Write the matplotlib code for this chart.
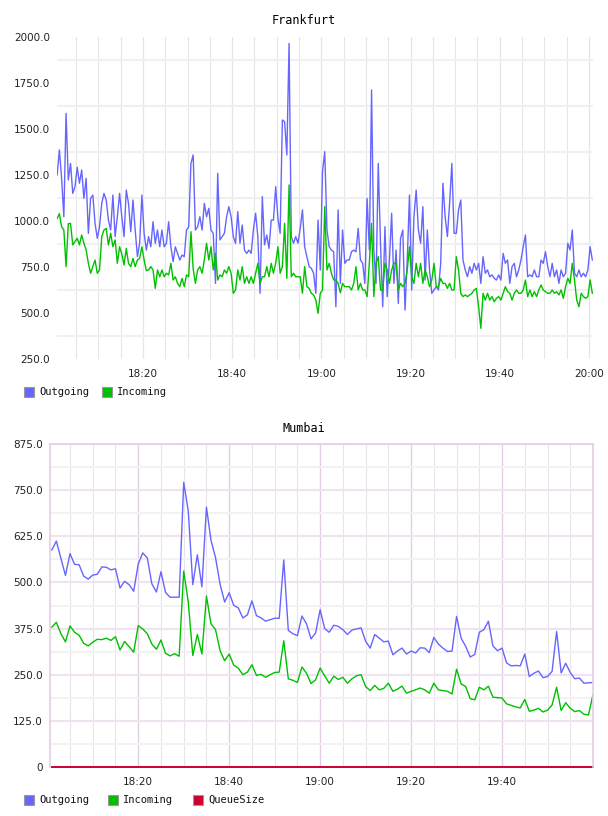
import numpy as np
import pandas as pd
import matplotlib
matplotlib.use("Agg")
import matplotlib.pyplot as plt
import matplotlib.dates as mdates
from matplotlib.patches import Rectangle
from matplotlib.ticker import FixedLocator, FuncFormatter

# Frankfurt samples (every 30 s)
frankfurt_out = [
    1250, 1386, 1232, 1023, 1585, 1223, 1313, 1150, 1187, 1292,
    1205, 1277, 1123, 1232, 933, 1123, 1141, 987, 906, 969,
    1096, 1150, 1114, 1005, 951, 1141, 915, 1023, 1150, 1023,
    915, 1168, 1096, 942, 1114, 951, 806, 879, 1141, 933,
    842, 915, 860, 996, 879, 951, 860, 951, 860, 879,
    996, 860, 779, 860, 824, 788, 815, 806, 951, 969,
    1313, 1359, 951, 969, 1023, 951, 1096, 1023, 1069, 951,
    933, 661, 1259, 897, 915, 933, 1023, 1078, 1023, 915,
    879, 1051, 879, 978, 842, 824, 842, 824, 951, 1042,
    915, 607, 1132, 870, 924, 851, 1005, 1005, 1187, 1014,
    933, 1549, 1540, 1359, 1965, 915, 879, 915, 879, 960,
    1060, 860, 806, 752, 743, 716, 607, 1005, 734, 1268,
    1377, 951, 860, 842, 833, 534, 1060, 661, 951, 770,
    788, 788, 833, 842, 833, 960, 788, 770, 661, 1123,
    842, 1712, 842, 661, 1313, 879, 534, 969, 589, 788,
    1042, 661, 842, 552, 906, 951, 516, 788, 1141, 625,
    1023, 1168, 951, 879, 1078, 679, 951, 734, 607, 625,
    643, 625, 770, 1205, 1023, 915, 1096, 1313, 933, 933,
    1060, 1114, 788, 734, 697, 752, 716, 770, 734, 770,
    661, 806, 716, 734, 697, 707, 689, 679, 707, 679,
    824, 770, 788, 661, 752, 770, 697, 734, 788, 860,
    924, 697, 707, 697, 734, 697, 697, 788, 770, 833,
    752, 697, 770, 697, 734, 661, 734, 697, 716, 879,
    842, 951, 716, 697, 734, 697, 716, 697, 734, 860,
    788]
frankfurt_in = [
    1014, 1040, 969, 951, 752, 985, 987, 870, 888, 906,
    870, 924, 879, 842, 770, 716, 752, 788, 716, 734,
    915, 951, 960, 870, 933, 860, 897, 770, 860, 820,
    761, 851, 770, 752, 797, 752, 788, 797, 860, 788,
    730, 734, 752, 734, 634, 734, 697, 734, 697, 716,
    707, 770, 679, 697, 661, 643, 688, 643, 707, 697,
    942, 740, 661, 734, 752, 716, 788, 879, 788, 860,
    734, 824, 679, 707, 697, 734, 716, 752, 716, 607,
    625, 734, 679, 752, 661, 697, 661, 697, 661, 716,
    770, 661, 697, 697, 752, 697, 770, 716, 770, 860,
    716, 752, 987, 688, 1196, 697, 716, 697, 697, 697,
    607, 752, 643, 634, 607, 598, 571, 498, 607, 625,
    1078, 734, 770, 716, 680, 679, 661, 610, 661, 643,
    643, 643, 625, 661, 752, 625, 661, 625, 625, 589,
    770, 987, 589, 770, 806, 625, 625, 770, 734, 661,
    734, 770, 770, 625, 661, 643, 661, 734, 860, 697,
    661, 770, 697, 770, 661, 734, 697, 643, 679, 770,
    643, 643, 688, 661, 661, 634, 661, 625, 625, 806,
    734, 607, 589, 598, 589, 598, 607, 625, 634, 534,
    417, 607, 570, 607, 570, 589, 561, 580, 589, 570,
    607, 643, 616, 607, 570, 607, 625, 607, 607, 625,
    679, 589, 625, 589, 616, 589, 625, 652, 625, 616,
    607, 607, 625, 607, 616, 598, 625, 580, 643, 688,
    661, 770, 680, 570, 534, 607, 589, 580, 589, 680,
    607]

# Mumbai samples (every minute)
mumbai_out = [
    588, 612, 565, 519, 578, 549, 548, 517, 509, 520,
    522, 542, 541, 534, 537, 485, 503, 494, 476, 550,
    580, 566, 496, 474, 529, 473, 460, 460, 460, 771,
    694, 494, 575, 488, 704, 614, 567, 495, 447, 472,
    438, 431, 404, 412, 450, 410, 404, 395, 399, 403,
    403, 561, 370, 361, 356, 409, 388, 347, 363, 426,
    375, 365, 384, 381, 372, 359, 371, 374, 377, 341,
    322, 359, 349, 339, 341, 304, 314, 322, 306, 314,
    309, 323, 322, 310, 351, 333, 322, 313, 314, 408,
    349, 327, 298, 305, 365, 372, 395, 328, 315, 322,
    282, 274, 275, 274, 306, 245, 254, 260, 242, 245,
    259, 367, 255, 281, 256, 239, 241, 227, 228, 229]
mumbai_in = [
    379, 392, 361, 339, 382, 365, 357, 335, 328, 338,
    346, 345, 349, 343, 353, 317, 340, 326, 311, 383,
    374, 361, 333, 319, 344, 308, 301, 307, 300, 531,
    447, 302, 359, 306, 463, 388, 372, 315, 288, 306,
    276, 268, 250, 257, 277, 248, 251, 243, 250, 256,
    257, 342, 239, 235, 229, 271, 254, 226, 236, 268,
    247, 227, 246, 237, 243, 227, 239, 247, 250, 218,
    207, 221, 209, 213, 227, 205, 211, 219, 200, 205,
    209, 214, 209, 200, 227, 209, 207, 205, 198, 265,
    225, 218, 185, 182, 216, 209, 219, 189, 188, 187,
    171, 167, 163, 160, 183, 151, 154, 159, 149, 154,
    168, 216, 153, 174, 159, 150, 153, 143, 141, 196]
mumbai_queue = [0] * len(mumbai_out)

frankfurt_times = pd.date_range("2020-01-01 18:00:45", periods=len(frankfurt_out), freq="30s")
mumbai_times = pd.date_range("2020-01-01 18:01:00", periods=len(mumbai_out), freq="60s")
mumbai_ticks = ["18:20", "18:40", "19:00", "19:20", "19:40"]

BLUE = "#6666ff"
GREEN = "#00c000"
RED = "#cc0033"
W, H = 608, 816

plt.rcParams["font.family"] = "DejaVu Sans"
fig = plt.figure(figsize=(W / 100, H / 100), dpi=100)


def px_axes(left, top, right, bottom):
    return fig.add_axes([left / W, 1 - bottom / H, (right - left) / W, (bottom - top) / H])


def legend_item(x, y, color, label):
    fig.add_artist(Rectangle((x / W, 1 - (y + 5) / H), 10 / W, 10 / H,
                             transform=fig.transFigure, facecolor=color,
                             edgecolor="#999999", lw=0.8))
    fig.text((x + 15) / W, 1 - y / H, label, ha="left", va="center",
             fontsize=7.5, family="DejaVu Sans Mono", color="#111111")


def ts(hm):
    return pd.Timestamp("2020-01-01 " + hm)


# ---- Frankfurt ----
ax1 = px_axes(57, 37, 593, 359)
ax1.plot(frankfurt_times, frankfurt_out, color=BLUE, lw=1.0)
ax1.plot(frankfurt_times, frankfurt_in, color=GREEN, lw=1.0)
ax1.set_ylim(250, 2000)
ax1.set_xlim(ts("18:00:43"), ts("20:00:54"))
ax1.yaxis.set_major_locator(FixedLocator(np.arange(250, 2001, 250)))
ax1.yaxis.set_minor_locator(FixedLocator(np.arange(375, 2000, 250)))
ax1.yaxis.set_major_formatter(FuncFormatter(lambda v, p: f"{v:.1f}"))
ax1.xaxis.set_major_locator(mdates.MinuteLocator(byminute=[0, 20, 40]))
ax1.xaxis.set_minor_locator(mdates.MinuteLocator(byminute=range(0, 60, 5)))
ax1.xaxis.set_major_formatter(mdates.DateFormatter("%H:%M"))
ax1.xaxis.remove_overlapping_locs = False
ax1.set_axisbelow(True)
ax1.grid(which="minor", axis="y", color="#f0f0f0", lw=1.5)
ax1.grid(which="both", axis="x", color="#e6e6e6", lw=0.8)
for s in ax1.spines.values():
    s.set_visible(False)
ax1.tick_params(which="both", length=0, labelsize=7.5, colors="#222222")
ax1.tick_params(axis="y", pad=5)
ax1.tick_params(axis="x", pad=7)

fig.text(304 / W, 1 - 20 / H, "Frankfurt", ha="center", va="center",
         fontsize=8.5, family="DejaVu Sans Mono")
legend_item(24, 392, BLUE, "Outgoing")
legend_item(102, 392, GREEN, "Incoming")

# ---- Mumbai ----
ax2 = px_axes(50, 444, 593, 767)
ax2.plot(mumbai_times, mumbai_out, color=BLUE, lw=1.0)
ax2.plot(mumbai_times, mumbai_in, color=GREEN, lw=1.0)
ax2.plot(mumbai_times, mumbai_queue, color=RED, lw=1.4, clip_on=False)
ax2.set_ylim(0, 875)
ax2.set_xlim(ts("18:00:36"), ts("20:00:00"))
ax2.yaxis.set_major_locator(FixedLocator(np.arange(0, 876, 125)))
ax2.yaxis.set_minor_locator(FixedLocator(np.arange(62.5, 875, 125)))
ax2.yaxis.set_major_formatter(FuncFormatter(lambda v, p: "0" if v == 0 else f"{v:.1f}"))
ax2.xaxis.set_major_locator(FixedLocator(mdates.date2num([ts(t) for t in mumbai_ticks])))
ax2.xaxis.set_minor_locator(mdates.MinuteLocator(byminute=range(0, 60, 5)))
ax2.xaxis.set_major_formatter(mdates.DateFormatter("%H:%M"))
ax2.set_axisbelow(True)
ax2.grid(which="major", axis="y", color="#f0e2f0", lw=1.5)
ax2.grid(which="major", axis="x", color="#e2cee2", lw=1.0)
ax2.grid(which="minor", axis="y", color="#f2f2f2", lw=1.5)
ax2.grid(which="minor", axis="x", color="#e8e4ea", lw=0.8)
for side in ["left", "top", "right"]:
    ax2.spines[side].set_color("#e2cee2")
    ax2.spines[side].set_linewidth(1.2)
ax2.spines["bottom"].set_visible(False)
ax2.tick_params(which="both", length=0, labelsize=7.5, colors="#222222")
ax2.tick_params(axis="y", pad=5)
ax2.tick_params(axis="x", pad=7)

fig.text(304 / W, 1 - 429 / H, "Mumbai", ha="center", va="center",
         fontsize=8.5, family="DejaVu Sans Mono")
legend_item(24, 800, BLUE, "Outgoing")
legend_item(108, 800, GREEN, "Incoming")
legend_item(193, 800, RED, "QueueSize")

fig.savefig("out.png", dpi=100)
